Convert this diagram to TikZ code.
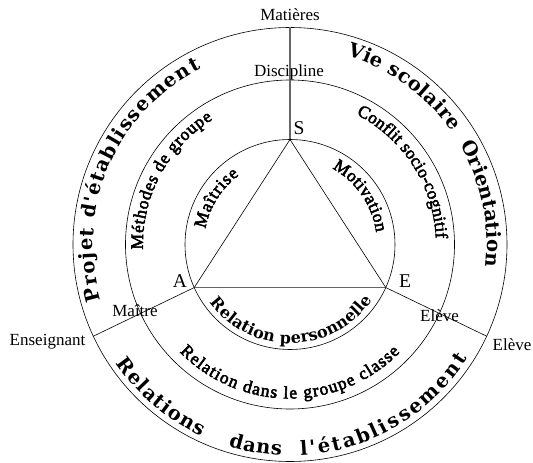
\documentclass[tikz,border=0pt]{standalone}
\usepackage{fontspec}
\setmainfont{Liberation Serif}
\newfontfamily\arcfont[FakeBold=3]{Liberation Serif}
\newfontfamily\dvs{DejaVu Serif}
\usetikzlibrary{decorations.text}
\newcommand{\outerf}{\dvs\bfseries\fontsize{19.5}{19.5}\selectfont}
\newcommand{\persf}{\dvs\bfseries\fontsize{16}{16}\selectfont}
\newcommand{\midf}{\arcfont\fontsize{17.5}{17.5}\selectfont}
\newcommand{\innf}{\arcfont\fontsize{17.5}{17.5}\selectfont}
\newcommand{\labf}{\fontsize{17}{18}\selectfont}
\newcommand{\vertf}{\fontsize{19.5}{20}\selectfont}
\tikzset{
  ring/.style={draw=black, line width=0.6pt},
  grayline/.style={draw=black!60, line width=1.1pt},
  thinline/.style={draw=black, line width=0.6pt},
  lab/.style={inner sep=0pt, font=\labf},
  vert/.style={inner sep=0pt, font=\vertf},
  fit arc/.style={decorate, decoration={text along path, text align={fit to path}, text={#1}}}
}
\begin{document}
\begin{tikzpicture}
\useasboundingbox (-290pt,-218.5pt) rectangle (243pt,244.5pt);
\coordinate (C) at (0pt,0pt);
% circles
\draw[ring] (C) circle[radius=217pt];
\draw[ring] (C) circle[radius=164.5pt];
\draw[ring] (C) circle[radius=105pt];
% vertices and outer points
\coordinate (S) at (90:105pt);
\coordinate (A) at (204.2:105pt);
\coordinate (E) at (335.8:105pt);
\coordinate (Mt) at (90:217pt);
\coordinate (En) at (205:217pt);
\coordinate (El) at (335:217pt);
% lines
\draw[grayline] (S) -- (Mt);
\draw[grayline] (A) -- (E);
\draw[thinline] (S) -- (A);
\draw[thinline] (S) -- (E);
\draw[thinline] (A) -- (En);
\draw[thinline] (E) -- (El);
% plain labels
\node[lab] (matieres) at (0pt,229.5pt) {Matières};
\node[lab] (discipline) at (-1pt,172.5pt) {Discipline};
\node[vert] (Slab) at (9pt,116.5pt) {S};
\node[vert] (Alab) at (-110pt,-36.5pt) {A};
\node[vert] (Elab) at (115pt,-36.5pt) {E};
\node[lab] (maitre) at (-155pt,-66.5pt) {Maître};
\node[lab] (enseignant) at (-242.5pt,-97.5pt) {Enseignant};
\node[lab] (eleve1) at (149.5pt,-71.5pt) {Elève};
\node[lab] (eleve2) at (222pt,-100.5pt) {Elève};
% outer ring texts
\path[fit arc={|\outerf|Projet d'établissement}] (196.5:197pt) arc[start angle=196.5, end angle=116.9, radius=197pt];
\path[fit arc={|\outerf|Vie scolaire}] (73.2:197pt) arc[start angle=73.2, end angle=34.9, radius=197pt];
\path[fit arc={|\outerf|Orientation}] (30.4:197pt) arc[start angle=30.4, end angle=-5.4, radius=197pt];
\path[fit arc={|\outerf|Relations}] (214.3:211pt) arc[start angle=214.3, end angle=245.3, radius=211pt];
\path[fit arc={|\outerf|dans}] (253:211pt) arc[start angle=253, end angle=267.7, radius=211pt];
\path[fit arc={|\outerf|l'établissement}] (272.9:211pt) arc[start angle=272.9, end angle=327.3, radius=211pt];
% middle ring texts
\path[fit arc={|\midf|Méthodes de groupe}] (182:147pt) arc[start angle=182, end angle=121.7, radius=147pt];
\path[fit arc={|\midf|Conflit socio-cognitif}] (63:146pt) arc[start angle=63, end angle=2.3, radius=146pt];
\path[fit arc={|\midf|Relation dans le groupe classe}] (224.2:154pt) arc[start angle=224.2, end angle=315.6, radius=154pt];
% inner ring texts
\path[fit arc={|\innf|Maîtrise}] (169.5:86pt) arc[start angle=169.5, end angle=126.3, radius=86pt];
\path[fit arc={|\innf|Motivation}] (61:87pt) arc[start angle=61, end angle=8, radius=87pt];
\path[fit arc={|\persf|Relation personnelle}] (216:99pt) arc[start angle=216, end angle=326, radius=99pt];
\end{tikzpicture}
\end{document}
